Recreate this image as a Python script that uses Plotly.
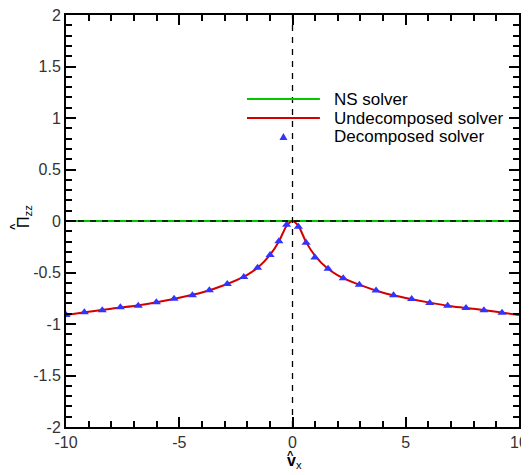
import plotly.graph_objects as go

# Undecomposed solver curve
line_x = [-10, -9, -8, -7, -6, -5, -4, -3, -2, -1.5, -1, -0.6, -0.3, -0.1, 0,
          0.1, 0.3, 0.6, 1, 1.5, 2, 3, 4, 5, 6, 7, 8, 9, 10]
line_y = [-0.913, -0.881, -0.852, -0.826, -0.789, -0.745, -0.694, -0.621, -0.522, -0.446, -0.332, -0.200, -0.060, -0.010, 0.0,
          -0.010, -0.062, -0.205, -0.338, -0.452, -0.527, -0.623, -0.696, -0.747, -0.790, -0.827, -0.853, -0.882, -0.913]

# Decomposed solver symbols
mark_x = [-10, -9.19, -8.40, -7.60, -6.81, -6.01, -5.23, -4.42, -3.67, -2.88, -2.15, -1.54, -0.99, -0.60, -0.26,
          0.26, 0.60, 0.99, 1.57, 2.24, 2.95, 3.69, 4.46, 5.26, 6.06, 6.85, 7.66, 8.45, 9.25]
mark_y = [-0.913, -0.886, -0.867, -0.838, -0.822, -0.789, -0.754, -0.721, -0.673, -0.612, -0.544, -0.453, -0.330, -0.197, -0.036,
          -0.055, -0.210, -0.354, -0.463, -0.556, -0.619, -0.675, -0.721, -0.757, -0.796, -0.822, -0.845, -0.867, -0.890]

# NS solver
ns_x = [-10, 10]
ns_y = [0, 0]

legend_names = ["NS solver", "Undecomposed solver", "Decomposed solver"]

GREEN = "#00c800"
RED = "#d40000"
BLUE = "#3333ff"

fig = go.Figure()
fig.add_trace(go.Scatter(x=ns_x, y=ns_y, mode="lines", line=dict(color=GREEN, width=2), showlegend=False))
fig.add_trace(go.Scatter(x=line_x, y=line_y, mode="lines", line=dict(color=RED, width=2, shape="spline", smoothing=0.6),
                         showlegend=False))
fig.add_trace(go.Scatter(x=mark_x, y=mark_y, mode="markers",
                         marker=dict(symbol="triangle-up", size=8, color=BLUE), showlegend=False))

shapes = [
    dict(type="line", x0=0, x1=0, y0=-2, y1=2, xref="x", yref="y",
         line=dict(color="black", width=1.3, dash="6px,6px"), layer="above"),
    dict(type="line", x0=-10, x1=10, y0=0, y1=0, xref="x", yref="y",
         line=dict(color="black", width=1.3, dash="6px,6px"), layer="above"),
    # legend glyphs
    dict(type="line", x0=-2.01, x1=1.21, y0=1.184, y1=1.184, xref="x", yref="y",
         line=dict(color=GREEN, width=2)),
    dict(type="line", x0=-2.01, x1=1.21, y0=1.0, y1=1.0, xref="x", yref="y",
         line=dict(color=RED, width=2)),
    dict(type="path", xref="x", yref="y", xsizemode="pixel", ysizemode="pixel",
         xanchor=-0.40, yanchor=0.816, path="M -4,-3 L 4,-3 L 0,4 Z",
         fillcolor=BLUE, line=dict(color=BLUE, width=0)),
]

annotations = []
for name, yy in zip(legend_names, [1.184, 1.0, 0.816]):
    annotations.append(dict(x=1.73, y=yy, xref="x", yref="y", text=name, showarrow=False,
                            xanchor="left", yanchor="middle",
                            font=dict(family="Liberation Sans", size=17, color="black")))

TITLE_FONT = dict(family="Liberation Sans", size=16, color="black")
# x axis title: v-hat with subscript x
annotations.append(dict(x=0, y=0, xref="x", yref="paper", xanchor="center", yanchor="middle",
                        text="<b>v</b><sub>x</sub>", showarrow=False, xshift=2, yshift=-34,
                        font=TITLE_FONT))
annotations.append(dict(x=0, y=0, xref="x", yref="paper", xanchor="center", yanchor="middle",
                        text="<b>^</b>", showarrow=False, xshift=-2, yshift=-28,
                        font=dict(family="Liberation Sans", size=11, color="black")))
# y axis title: Pi-hat with subscript zz
annotations.append(dict(x=0, y=0, xref="paper", yref="y", xanchor="center", yanchor="middle",
                        text="Π<sub>zz</sub>", showarrow=False, textangle=-90, xshift=-42, yshift=4,
                        font=TITLE_FONT))
annotations.append(dict(x=0, y=0, xref="paper", yref="y", xanchor="center", yanchor="middle",
                        text="<b>^</b>", showarrow=False, textangle=-90, xshift=-52, yshift=-6,
                        font=dict(family="Liberation Sans", size=11, color="black")))

axis_common = dict(showgrid=False, zeroline=False, showline=True, linecolor="black", linewidth=2,
                   mirror="allticks", ticks="inside", ticklen=10, tickwidth=2, tickcolor="black",
                   automargin=False, ticklabeloverflow="allow",
                   tickfont=dict(family="Liberation Sans", size=16, color="#333333"))

fig.update_xaxes(range=[-10, 10], tickvals=[-10, -5, 0, 5, 10], ticktext=["-10", "-5", "0", "5", "10"],
                 minor=dict(dtick=1, ticks="inside", ticklen=6, tickwidth=1.5, tickcolor="black"),
                 **axis_common)
fig.update_yaxes(range=[-2, 2], tickvals=[-2, -1.5, -1, -0.5, 0, 0.5, 1, 1.5, 2],
                 ticktext=["-2", "-1.5", "-1", "-0.5", "0", "0.5", "1", "1.5", "2"],
                 minor=dict(dtick=0.1, ticks="inside", ticklen=6, tickwidth=1.5, tickcolor="black"),
                 **axis_common)

# page body has an 8px margin, so the figure is sized/offset to compensate
fig.update_layout(width=521, height=467, margin=dict(l=58, r=10, t=7, b=48),
                  paper_bgcolor="white", plot_bgcolor="white", shapes=shapes, annotations=annotations,
                  showlegend=False)

fig.write_html("out.html")
